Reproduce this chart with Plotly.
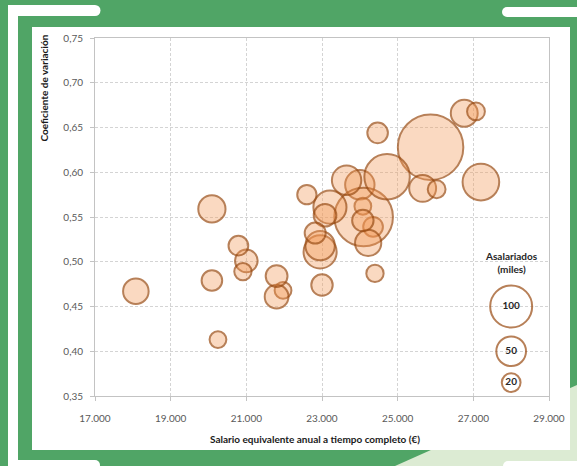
import numpy as np
import plotly.graph_objects as go

# Salario medio (€), coeficiente de variación y asalariados (miles)
salario = [24000, 24080, 24350, 25870, 24100, 24720, 27200, 23210, 22950,
           22950, 23650, 20090, 25660, 26760, 24220, 18080, 21970, 21800,
           21000, 23080, 21800, 23000, 24080, 22820, 20090, 24470, 20790,
           22600, 26030, 27070, 20910, 24400, 20250]
coef_var = [0.586, 0.562, 0.539, 0.628, 0.550, 0.595, 0.589, 0.561, 0.511,
            0.518, 0.591, 0.559, 0.582, 0.666, 0.521, 0.467, 0.468, 0.461,
            0.501, 0.552, 0.484, 0.474, 0.546, 0.532, 0.479, 0.644, 0.518,
            0.575, 0.581, 0.668, 0.489, 0.487, 0.413]
asalariados = [49, 16, 22, 243, 195, 117, 76, 62, 62,
               49, 49, 42, 41, 41, 39, 37, 16, 32,
               29, 29, 27, 26, 26, 25, 24, 24, 22,
               21, 18, 18, 17, 17, 16]

leyenda_vals = [100, 50, 20]
leyenda_x = [28000, 28000, 28000]
leyenda_y = [0.45, 0.40, 0.365]

# geometria de la zona de trazado en pixeles
L, R, T, B = 95, 549, 38, 396
W, H = R - L, B - T


def px(x):
    return (x - L) / W


def py(y):
    return (B - y) / H


def rect(x0, y0, x1, y1, color):
    return dict(type="rect", xref="paper", yref="paper", layer="below",
                x0=px(x0), x1=px(x1), y0=py(y1), y1=py(y0),
                fillcolor=color, line=dict(width=0))


def circ(cx, cy, r, color):
    return dict(type="circle", xref="paper", yref="paper", layer="below",
                x0=px(cx - r), x1=px(cx + r), y0=py(cy + r), y1=py(cy - r),
                fillcolor=color, line=dict(width=0))


VERDE = "#50a566"
VERDE_CLARO = "#dcebd3"
BLANCO = "#ffffff"

shapes = [
    dict(type="path", xref="paper", yref="paper", layer="below",
         path=f"M {px(395)},{py(466)} L {px(577)},{py(385)} L {px(577)},{py(466)} Z",
         fillcolor=VERDE_CLARO, line=dict(width=0)),
    rect(32, 27, 570, 450, BLANCO),
    rect(8, 5, 18, 466, BLANCO),
    rect(8, 5, 95, 16, BLANCO), circ(95, 10.5, 5.5, BLANCO),
    rect(18, 460, 95, 470, BLANCO), circ(95, 465, 5, BLANCO),
    rect(507, 7, 577, 17, BLANCO), circ(507, 12, 5, BLANCO),
    rect(508, 461, 577, 470, BLANCO), circ(508, 466, 5, BLANCO),
]

# en modo area plotly dibuja un diametro de sqrt(2*v/sizeref)
sizeref = 2 / 4.2 ** 2
BORDE = "#9a4b12"

fig = go.Figure()

fig.add_trace(go.Scatter(
    x=salario, y=coef_var,
    mode="markers",
    marker=dict(
        size=asalariados, sizemode="area", sizeref=sizeref,
        color="rgba(244, 150, 80, 0.5)",
        line=dict(color=BORDE, width=2),
    ),
    hoverinfo="skip",
))

fig.add_trace(go.Scatter(
    x=leyenda_x, y=leyenda_y,
    mode="markers+text",
    text=[str(v) for v in leyenda_vals],
    textposition="middle center",
    textfont=dict(family="Lato", size=10, color="#262626", weight="bold"),
    marker=dict(
        size=leyenda_vals, sizemode="area", sizeref=sizeref,
        color="rgba(255,255,255,0)",
        line=dict(color=BORDE, width=2),
    ),
    hoverinfo="skip",
))

annotations = [
    dict(text="<b>Coeficiente de variación</b>", textangle=-90,
         xref="paper", yref="paper", x=px(43), y=py(33),
         xanchor="center", yanchor="top", showarrow=False,
         font=dict(family="Lato", size=10, color="#1a1a1a")),
    dict(text="<b>Salario equivalente anual a tiempo completo (€)</b>",
         xref="paper", yref="paper", x=px(315), y=py(439),
         xanchor="center", yanchor="middle", showarrow=False,
         font=dict(family="Lato", size=10, color="#1a1a1a")),
    dict(text="<b>Asalariados<br>(miles)</b>",
         xref="paper", yref="paper", x=px(511), y=py(262),
         xanchor="center", yanchor="middle", showarrow=False,
         font=dict(family="Lato", size=10, color="#262626")),
]

eje = dict(
    showline=True, linecolor="#c3c3c3", linewidth=1, mirror=True,
    ticks="outside", ticklen=4, tickcolor="#c3c3c3",
    showgrid=True, gridcolor="#d4d4d4", griddash="3px,2px", gridwidth=1,
    zeroline=False,
    tickfont=dict(family="Lato", size=10, color="#595959"),
)

fig.update_layout(
    width=577, height=466,
    margin=dict(l=L, r=577 - R, t=T, b=466 - B),
    paper_bgcolor=VERDE,
    plot_bgcolor=BLANCO,
    showlegend=False,
    separators=",.",
    shapes=shapes,
    annotations=annotations,
    xaxis=dict(eje, range=[17000, 29000], tick0=17000, dtick=2000,
               tickformat=",d", ticklabelstandoff=9),
    yaxis=dict(eje, range=[0.35, 0.75], dtick=0.05, tickformat=".2f",
               ticklabelstandoff=5),
)

# quitar el margen por defecto del body para que la figura llene la ventana
fig.write_html("out.html", config={"displayModeBar": False},
               post_script="document.body.style.margin = '0';")
